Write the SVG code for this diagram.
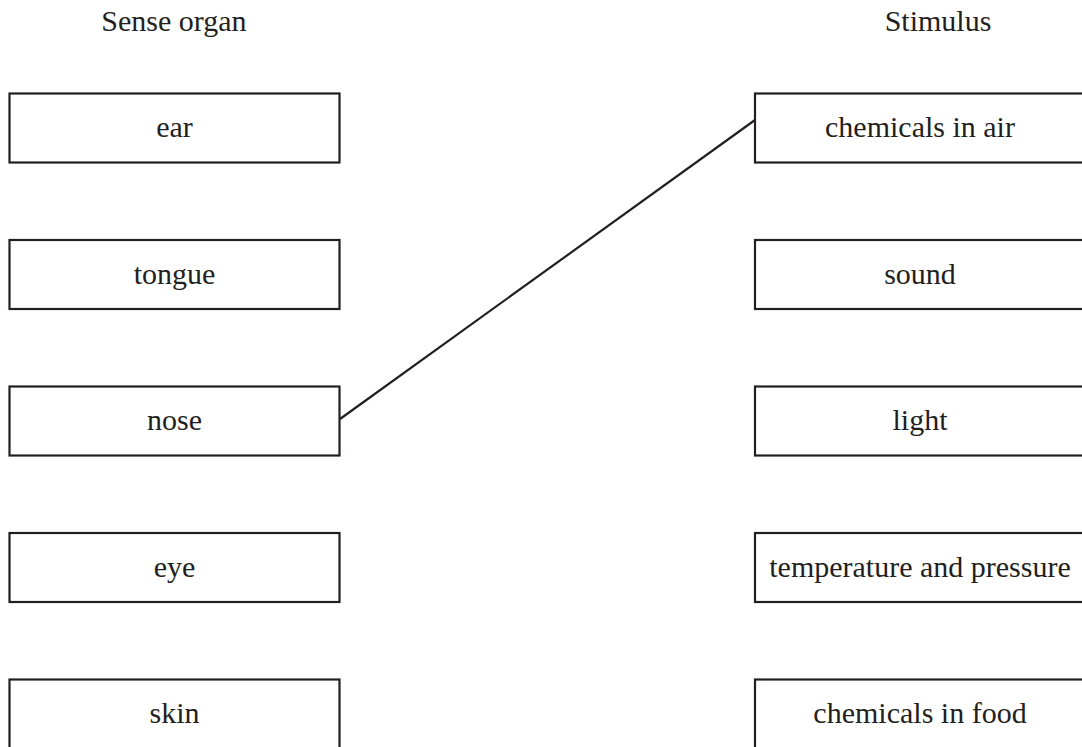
<svg xmlns="http://www.w3.org/2000/svg" width="1082" height="747" viewBox="0 0 1082 747">
<style>
.box{fill:#fff;stroke:#231f20;stroke-width:2.2}
.t{font-family:'Liberation Serif','Times New Roman','DejaVu Serif',serif;font-size:30px;fill:#231f20;text-anchor:middle}
.c{stroke:#231f20;stroke-width:2.2;fill:none}
</style>
<rect width="1082" height="747" fill="#fff"/>
<g id="headings">
<text class="t" x="174" y="31">Sense organ</text>
<text class="t" x="938" y="31">Stimulus</text>
</g>
<g id="ear"><rect class="box" x="9.5" y="93.5" width="330" height="69"/><text class="t" x="174.5" y="137">ear</text></g>
<g id="tongue"><rect class="box" x="9.5" y="240" width="330" height="69"/><text class="t" x="174.5" y="283.5">tongue</text></g>
<g id="nose"><rect class="box" x="9.5" y="386.5" width="330" height="69"/><text class="t" x="174.5" y="430">nose</text></g>
<g id="eye"><rect class="box" x="9.5" y="533" width="330" height="69"/><text class="t" x="174.5" y="576.5">eye</text></g>
<g id="skin"><rect class="box" x="9.5" y="679.5" width="330" height="69"/><text class="t" x="174.5" y="723">skin</text></g>
<g id="chemicals-air"><rect class="box" x="755" y="93.5" width="340" height="69"/><text class="t" x="920" y="137">chemicals in air</text></g>
<g id="sound"><rect class="box" x="755" y="240" width="340" height="69"/><text class="t" x="920" y="283.5">sound</text></g>
<g id="light"><rect class="box" x="755" y="386.5" width="340" height="69"/><text class="t" x="920" y="430">light</text></g>
<g id="temperature"><rect class="box" x="755" y="533" width="340" height="69"/><text class="t" x="920" y="576.5">temperature and pressure</text></g>
<g id="chemicals-food"><rect class="box" x="755" y="679.5" width="340" height="69"/><text class="t" x="920" y="723">chemicals in food</text></g>
<g id="connectors">
<line class="c" x1="340" y1="419" x2="755" y2="120"/>
</g>
</svg>
